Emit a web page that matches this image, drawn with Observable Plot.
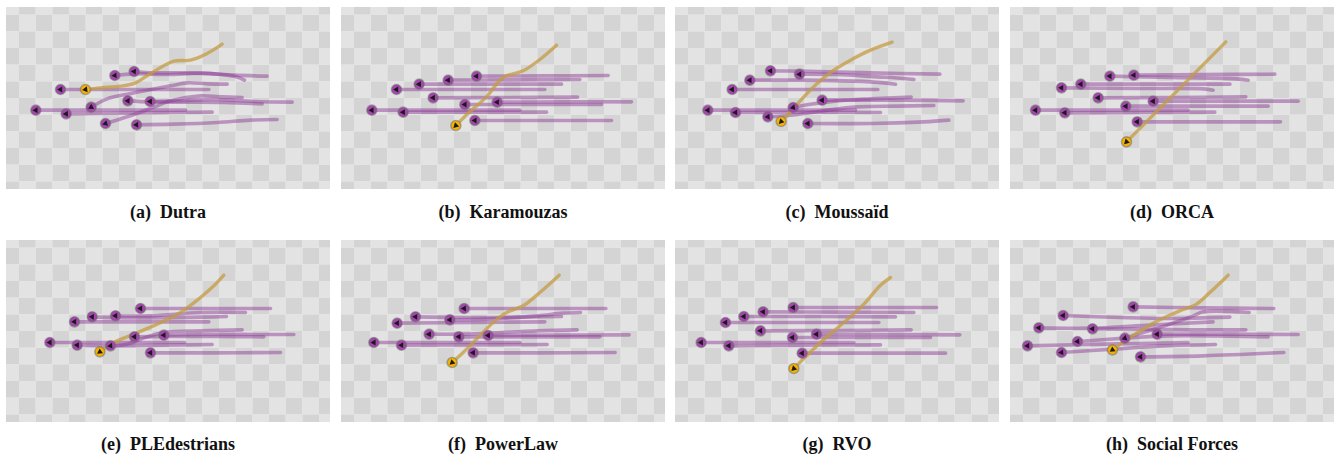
<!DOCTYPE html>
<html><head><meta charset="utf-8">
<script src="https://cdn.jsdelivr.net/npm/d3@7"></script>
<script src="https://cdn.jsdelivr.net/npm/@observablehq/plot@0.6"></script>
<style>
body{margin:0;background:#fff;width:1338px;height:459px;position:relative;overflow:hidden}
.panel{position:absolute;line-height:0}
.cap{position:absolute;width:324px;text-align:center;font-family:"Liberation Serif","DejaVu Serif",serif;font-weight:bold;font-size:18px;line-height:20px;color:#111;white-space:pre}
</style></head><body>
<script>
// Panel labels
const letters = ["(a)","(b)","(c)","(d)","(e)","(f)","(g)","(h)"];
const names = ["Dutra","Karamouzas","Moussaïd","ORCA","PLEdestrians","PowerLaw","RVO","Social Forces"];

// Scene frames in world units [xLeft, xRight, yTop, yBottom]
const frames = [
  [18,990,22,568],[15,987,22,568],[15,987,22,568],[22,994,22,568],
  [18,990,24,570],[15,987,24,570],[15,987,24,570],[22,994,24,570]
];

// Trajectories (first point = current position, trail extends back to start)
const dutraAgents = [
  [[343,226],[401,221],[500,223],[600,219],[700,225],[800,228]],
  [[401,214],[460,218],[540,218],[640,221],[705,229],[732,240]],
  [[180,268],[400,268],[625,268]],
  [[272,321],[320,296],[370,284],[440,270],[510,257],[560,248],[620,251],[680,252]],
  [[106,330],[330,330],[555,330]],
  [[197,341],[420,338],[635,336]],
  [[408,374],[520,372],[650,367],[750,360],[830,358]],
  [[315,370],[380,350],[450,325],[510,302],[600,287],[660,290],[725,292]],
  [[449,304],[540,302],[640,298],[760,304],[875,306]],
  [[382,302],[449,305],[560,306],[670,307],[785,311]]
];
const dutraEgo = [[255,268],[300,263],[360,258],[405,248],[450,220],[520,183],[570,180],[620,160],[665,132]];

const karamouzasAgents = [
  [[420,228],[620,227],[815,226]],
  [[335,240],[530,239],[730,238]],
  [[248,252],[460,252],[675,252]],
  [[180,268],[400,268],[625,268]],
  [[290,293],[500,292],[723,291]],
  [[482,306],[680,305],[885,305]],
  [[385,313],[590,313],[795,313]],
  [[106,330],[330,330],[550,330]],
  [[200,336],[420,336],[630,336]],
  [[415,361],[620,361],[825,361]]
];
const karamouzasEgo = [[358,376],[400,335],[450,290],[500,232],[560,212],[610,178],[660,135]];

const moussaidAgents = [
  [[300,212],[387,213],[470,215],[600,218],[808,222]],
  [[387,222],[500,223],[620,230],[700,235],[730,238]],
  [[238,240],[400,240],[550,243],[640,248],[675,252]],
  [[185,268],[400,268],[622,268]],
  [[368,322],[420,312],[500,302],[600,296],[722,291]],
  [[455,300],[560,300],[700,300],[878,302]],
  [[292,350],[360,345],[450,333],[560,320],[680,318],[790,316]],
  [[112,330],[330,330],[555,330]],
  [[195,337],[400,336],[630,337]],
  [[412,370],[600,370],[760,365],[835,360]]
];
const moussaidEgo = [[332,364],[365,330],[400,290],[440,250],[490,210],[540,180],[600,150],[665,126]];

const orcaAgents = [
  [[392,225],[600,223],[815,222]],
  [[320,228],[500,232],[700,236],[735,240]],
  [[233,252],[450,252],[680,252]],
  [[175,263],[400,265],[600,266],[630,270]],
  [[285,293],[500,292],[728,290]],
  [[450,303],[670,303],[885,303]],
  [[368,318],[580,318],[795,318]],
  [[97,330],[330,330],[555,330]],
  [[185,338],[410,337],[635,336]],
  [[402,365],[620,365],[832,365]]
];
const orcaEgo = [[370,425],[668,125]];

const pledestriansAgents = [
  [[420,228],[610,228],[810,228]],
  [[345,250],[450,250],[600,240],[735,240]],
  [[275,253],[400,256],[600,254],[678,252]],
  [[222,268],[420,268],[625,268]],
  [[148,330],[350,330],[552,330]],
  [[230,338],[330,340],[480,338],[635,336]],
  [[330,340],[380,335],[420,320],[490,300],[600,295],[725,292]],
  [[402,313],[500,312],[650,312],[790,313]],
  [[490,308],[600,306],[880,306]],
  [[450,361],[640,361],[840,360]]
];
const pledestriansEgo = [[298,358],[340,330],[400,305],[470,275],[540,240],[600,195],[640,160],[670,128]];

const powerlawAgents = [
  [[383,228],[600,228],[808,228]],
  [[340,262],[450,260],[600,250],[680,242],[732,240]],
  [[237,253],[400,255],[675,252]],
  [[182,272],[400,270],[625,268]],
  [[278,305],[367,305],[500,300],[600,295],[722,292]],
  [[455,309],[660,308],[878,307]],
  [[367,313],[580,313],[790,313]],
  [[112,330],[330,330],[550,330]],
  [[195,338],[410,337],[632,336]],
  [[410,361],[620,361],[836,360]]
];
const powerlawEgo = [[347,390],[380,360],[420,320],[470,270],[510,240],[560,220],[610,180],[668,128]];

const rvoAgents = [
  [[368,225],[580,225],[798,225]],
  [[278,238],[500,239],[730,240]],
  [[220,252],[450,252],[675,253]],
  [[165,270],[400,270],[625,270]],
  [[270,295],[500,294],[722,292]],
  [[438,305],[650,306],[868,307]],
  [[366,315],[570,315],[780,315]],
  [[92,330],[320,330],[550,330]],
  [[175,340],[400,338],[630,337]],
  [[395,362],[610,362],[825,362]]
];
const rvoEgo = [[370,408],[450,330],[520,270],[580,215],[630,158],[660,135]];

const socialAgents = [
  [[390,223],[600,226],[812,228]],
  [[180,249],[350,255],[500,258],[680,254]],
  [[365,317],[420,300],[500,275],[570,250],[600,238],[738,240]],
  [[107,286],[268,287],[400,280],[630,268]],
  [[268,289],[400,290],[550,292],[728,292]],
  [[462,305],[680,305],[885,306]],
  [[223,327],[365,317],[500,310],[795,313]],
  [[73,340],[300,335],[555,330]],
  [[175,360],[330,350],[480,340],[637,336]],
  [[412,373],[600,370],[842,360]]
];
const socialEgo = [[328,352],[380,315],[420,290],[470,262],[530,235],[580,215],[620,180],[675,128]];

const agentSets = [dutraAgents, karamouzasAgents, moussaidAgents, orcaAgents, pledestriansAgents, powerlawAgents, rvoAgents, socialAgents];
const egoSets = [dutraEgo, karamouzasEgo, moussaidEgo, orcaEgo, pledestriansEgo, powerlawEgo, rvoEgo, socialEgo];

const panelLeft = [6, 341, 675, 1010];
const panelTop = [7, 240];
const capTop = [202, 434];
const W = 324, H = 182, CELL = 50;

function heading(traj) {
  const dx = traj[0][0] - traj[1][0], dy = traj[0][1] - traj[1][1];
  return Math.atan2(dx, -dy) * 180 / Math.PI;
}

function drawPanel(k) {
  const [x0, x1, y0, y1] = frames[k];
  const gx = x0 + 39 - CELL, gy = y0 + 23 - CELL;
  const cells = [];
  for (let i = 0; gx + i * CELL < x1; i++) {
    for (let j = 0; gy + j * CELL < y1; j++) {
      cells.push({
        x1: Math.max(x0, gx + i * CELL), x2: Math.min(x1, gx + (i + 1) * CELL),
        y1: Math.max(y0, gy + j * CELL), y2: Math.min(y1, gy + (j + 1) * CELL),
        dark: (i + j) % 2 === 1
      });
    }
  }
  const agents = agentSets[k], ego = egoSets[k];
  const trails = agents.flatMap((t, id) => t.map(([x, y]) => ({id, x, y})));
  const egoTrail = ego.map(([x, y]) => ({x, y}));
  const marks = agents.map(t => ({x: t[0][0], y: t[0][1], rot: heading(t)}));
  const egoMark = [{x: ego[0][0], y: ego[0][1], rot: heading(ego)}];
  const svg = Plot.plot({
    width: W, height: H, margin: 0,
    style: {background: "transparent", overflow: "visible"},
    x: {domain: [x0, x1], range: [0, W], axis: null},
    y: {domain: [y0, y1], range: [0, H], axis: null},
    marks: [
      Plot.rect(cells.filter(c => !c.dark), {x1: "x1", x2: "x2", y1: "y1", y2: "y2", fill: "#e3e3e3"}),
      Plot.rect(cells.filter(c => c.dark), {x1: "x1", x2: "x2", y1: "y1", y2: "y2", fill: "#d4d4d4"}),
      Plot.line(trails, {x: "x", y: "y", z: "id", stroke: "#8c3c96", strokeOpacity: 0.48, strokeWidth: 3.6, curve: "catmull-rom", strokeLinecap: "round"}),
      Plot.line(egoTrail, {x: "x", y: "y", stroke: "#c49c42", strokeOpacity: 0.75, strokeWidth: 3.4, curve: "catmull-rom", strokeLinecap: "round"}),
      Plot.dot(marks, {x: "x", y: "y", r: 5, fill: "#a545ae", stroke: "#6a6a6a", strokeOpacity: 0.5, strokeWidth: 1.6}),
      Plot.dot(egoMark, {x: "x", y: "y", r: 5, fill: "#f7b300", stroke: "#6a6a6a", strokeOpacity: 0.5, strokeWidth: 1.6}),
      Plot.dot(marks.concat(egoMark), {x: "x", y: "y", symbol: "triangle", r: 2.2, fill: "#1b1b1b", rotate: "rot"})
    ]
  });
  const wrap = document.createElement("div");
  wrap.className = "panel";
  wrap.style.left = panelLeft[k % 4] + "px";
  wrap.style.top = panelTop[Math.floor(k / 4)] + "px";
  wrap.appendChild(svg);
  document.body.appendChild(wrap);
  const cap = document.createElement("div");
  cap.className = "cap";
  cap.style.left = panelLeft[k % 4] + "px";
  cap.style.top = capTop[Math.floor(k / 4)] + "px";
  cap.textContent = letters[k] + "  " + names[k];
  document.body.appendChild(cap);
}
for (let k = 0; k < 8; k++) drawPanel(k);
</script></body></html>
